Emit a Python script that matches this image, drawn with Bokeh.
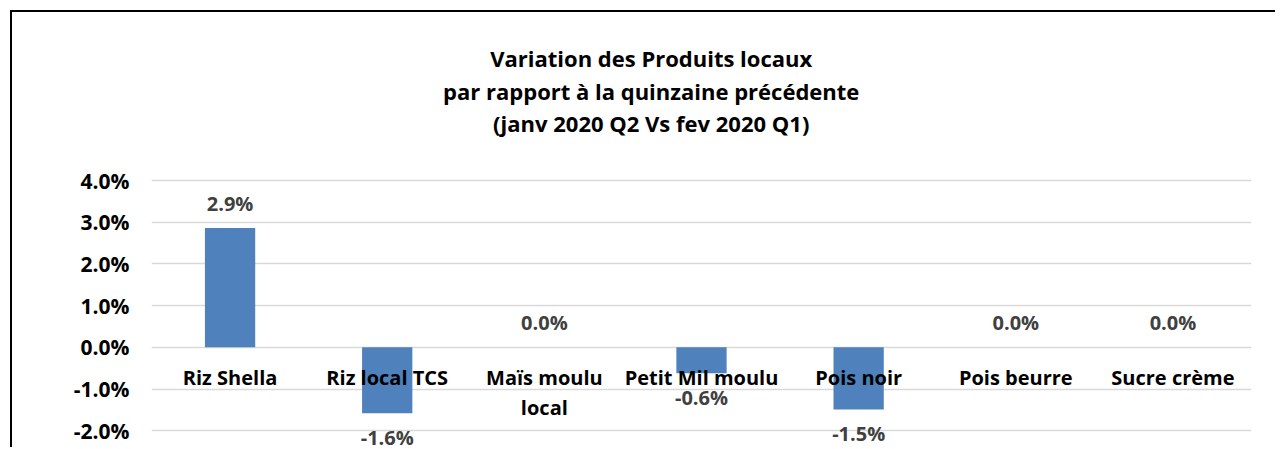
from bokeh.plotting import figure
from bokeh.models import ColumnDataSource, FactorRange, Range1d, FixedTicker, NumeralTickFormatter
from bokeh.core.properties import value
from bokeh.embed import file_html
from bokeh.resources import INLINE

categories = ["Riz Shella", "Riz local TCS", "Maïs moulu\nlocal", "Petit Mil moulu",
              "Pois noir", "Pois beurre", "Sucre crème"]
variation = [0.0286, -0.0158, 0.0, -0.0062, -0.0149, 0.0, 0.0]
y_ticks = [-0.02, -0.01, 0.0, 0.01, 0.02, 0.03, 0.04]
title_lines = ["Variation des Produits locaux",
               "par rapport à la quinzaine précédente",
               "(janv 2020 Q2 Vs fev 2020 Q1)"]

labels = [f"{v*100:.1f}%" for v in variation]
offsets = [-25 if v >= 0 else 24 for v in variation]
src = ColumnDataSource(dict(cat=categories, val=variation, lab=labels, off=offsets,
                            zero=[0.0] * len(categories)))

FONT = "Open Sans"
PX = 4170.0          # pixels per 1.0 of y
TOP_PAGE = 12        # page y of figure top
GRID_TOP_PAGE = 180  # page y of the 4.0% gridline
y_end = 0.04 + (GRID_TOP_PAGE - TOP_PAGE) / PX
y_start = 0.04 - (449 - GRID_TOP_PAGE) / PX

p = figure(width=1265, height=437, x_range=FactorRange(*categories, range_padding=0),
           y_range=Range1d(y_start, y_end), output_backend="svg", toolbar_location=None,
           min_border_left=139, min_border_right=26, min_border_top=0, min_border_bottom=0,
           styles={"border-left": "2px solid black", "border-top": "2px solid black",
                   "margin-left": "10px", "margin-top": "10px"})
p.outline_line_color = None
p.xaxis.visible = False
p.xgrid.visible = False
p.ygrid.ticker = FixedTicker(ticks=y_ticks)
p.ygrid.grid_line_color = "#d9d9d9"
p.ygrid.grid_line_width = 1.5

ax = p.yaxis[0]
ax.ticker = FixedTicker(ticks=y_ticks)
ax.formatter = NumeralTickFormatter(format="0.0%")
ax.axis_line_color = None
ax.major_tick_line_color = None
ax.minor_tick_line_color = None
ax.major_tick_out = 0
ax.major_label_standoff = 22
ax.major_label_text_font = FONT
ax.major_label_text_font_style = "bold"
ax.major_label_text_font_size = "21px"
ax.major_label_text_color = "black"

# title, three centred lines (baselines in page px: 57, 90, 122)
title_y = [0.04 + (GRID_TOP_PAGE - b) / PX for b in (57, 90, 122)]
p.text(x=[3.18] * 3, y=title_y, text=title_lines, text_align="center",
       text_baseline="alphabetic", text_font=value(FONT), text_font_style="bold",
       text_font_size="22px", text_color="black")

p.vbar(x="cat", top="val", bottom=0, width=0.32, source=src, fill_color="#4f81bd", line_color=None)

p.text(x="cat", y="val", text="lab", y_offset="off", source=src, text_align="center",
       text_baseline="middle", text_font=value(FONT), text_font_style="bold",
       text_font_size="20px", text_color="#404040")

p.text(x="cat", y="zero", text="cat", y_offset=17, source=src, text_align="center",
       text_baseline="top", text_font=value(FONT), text_font_style="bold",
       text_font_size="20px", text_color="black", text_line_height=1.1)

open("out.html", "w").write(file_html(p, INLINE))
